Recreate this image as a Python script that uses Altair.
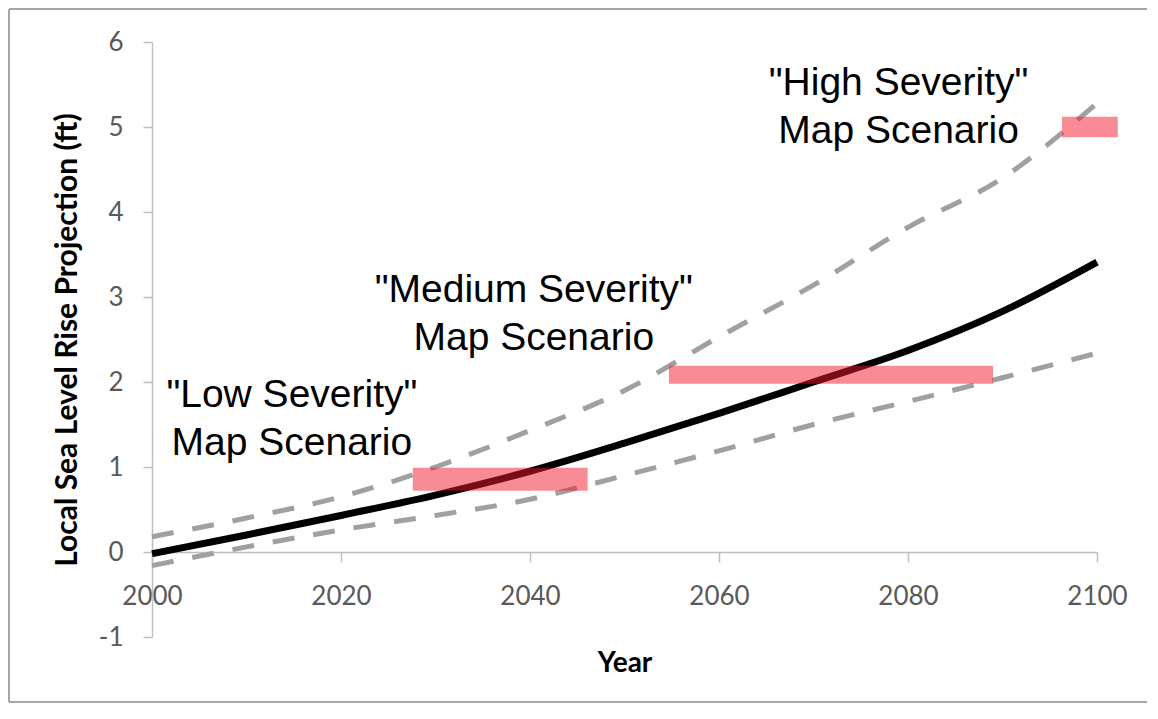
import altair as alt
import pandas as pd

# ---- data ----
years = [2000, 2010, 2020, 2030, 2040, 2050, 2060, 2070, 2080, 2090, 2100]
central = [-0.02, 0.2, 0.43, 0.67, 0.95, 1.28, 1.63, 2.0, 2.37, 2.83, 3.41]
upper = [0.18, 0.4, 0.65, 1.0, 1.43, 1.9, 2.53, 3.14, 3.82, 4.4, 5.28]
lower = [-0.16, 0.06, 0.26, 0.43, 0.62, 0.9, 1.19, 1.5, 1.77, 2.05, 2.34]

scen_names = ["Low", "Medium", "High"]
scen_x0 = [2027.6, 2054.7, 2096.3]
scen_x1 = [2046.1, 2089.0, 2102.2]
scen_y0 = [0.72, 1.98, 4.88]
scen_y1 = [0.99, 2.19, 5.12]

label_text = ['"Low Severity"\nMap Scenario',
              '"Medium Severity"\nMap Scenario',
              '"High Severity"\nMap Scenario']
label_x = [2014.8, 2040.4, 2079.0]
label_y = [1.71, 2.94, 5.38]

x_ticks = [2000, 2020, 2040, 2060, 2080, 2100]
y_ticks = [-1, 0, 1, 2, 3, 4, 5, 6]

W, H = 945, 595
PAD = {"left": 144, "top": 34, "right": 50, "bottom": 66}

# ---- tables ----
central_df = pd.DataFrame({"year": years, "value": central})
band_df = pd.DataFrame({
    "year": years * 2,
    "value": upper + lower,
    "series": ["Upper"] * len(years) + ["Lower"] * len(years),
})
bars_df = pd.DataFrame({"name": scen_names, "x0": scen_x0, "x1": scen_x1,
                        "y0": scen_y0, "y1": scen_y1})
labels_df = pd.DataFrame({"text": label_text, "tx": label_x, "ty": label_y})
one = pd.DataFrame({"a": [0]})

xs = alt.Scale(domain=[2000, 2100], nice=False, zero=False)
ys = alt.Scale(domain=[-1, 6], nice=False, zero=False)

axis_grey = "#bfbfbf"
xaxis = alt.Axis(values=x_ticks, labelExpr="'' + datum.value", grid=False, offset=-85,
                 domainColor=axis_grey, domainWidth=1.5, tickColor=axis_grey,
                 tickWidth=1.5, tickSize=10, labelFont="Lato", labelFontSize=26,
                 labelColor="#595959", labelPadding=21, labelFlush=False,
                 titleFont="Lato", titleFontSize=28, titleFontWeight="bold",
                 titleColor="#000000", titlePadding=40)
yaxis = alt.Axis(values=y_ticks, labelExpr="'' + datum.value", grid=False,
                 domainColor=axis_grey, domainWidth=1.5, tickColor=axis_grey,
                 tickWidth=1.5, tickSize=9, labelFont="Lato", labelFontSize=26,
                 labelColor="#595959", labelPadding=20,
                 titleFont="Lato", titleFontSize=30, titleFontWeight="bold",
                 titleColor="#000000", titlePadding=16)

XT = "Year"
YT = "Local Sea Level Rise Projection (ft)"

dashed = alt.Chart(band_df).mark_line(
    color="#a0a0a0", strokeWidth=5, strokeDash=[22, 19], interpolate="monotone"
).encode(
    x=alt.X("year:Q", scale=xs, axis=xaxis, title=XT),
    y=alt.Y("value:Q", scale=ys, axis=yaxis, title=YT),
    detail="series:N",
)

solid = alt.Chart(central_df).mark_line(
    color="#000000", strokeWidth=7, interpolate="monotone"
).encode(
    x=alt.X("year:Q", scale=xs, axis=xaxis, title=XT),
    y=alt.Y("value:Q", scale=ys, axis=yaxis, title=YT),
)

bars = alt.Chart(bars_df).mark_rect(color="#F3172D", opacity=0.5).encode(
    x=alt.X("x0:Q", scale=xs, axis=xaxis, title=XT),
    x2="x1:Q",
    y=alt.Y("y0:Q", scale=ys, axis=yaxis, title=YT),
    y2="y1:Q",
)

labels = alt.Chart(labels_df).mark_text(
    font="Liberation Sans", fontSize=39, lineHeight=48, align="center",
    baseline="alphabetic", color="#000000", lineBreak="\n"
).encode(
    x=alt.X("tx:Q", scale=xs, axis=xaxis, title=XT),
    y=alt.Y("ty:Q", scale=ys, axis=yaxis, title=YT),
    text="text:N",
)

frame_col = "#a6a6a6"
left_edge = -PAD["left"] + 1
top_edge = -PAD["top"] + 1
right_edge = W + PAD["right"]
bottom_edge = H + PAD["bottom"] - 1

frame_top = alt.Chart(one).mark_rule(color=frame_col, strokeWidth=2).encode(
    x=alt.value(left_edge), x2=alt.value(right_edge), y=alt.value(top_edge))
frame_bottom = alt.Chart(one).mark_rule(color=frame_col, strokeWidth=2).encode(
    x=alt.value(left_edge), x2=alt.value(right_edge), y=alt.value(bottom_edge))
frame_left = alt.Chart(one).mark_rule(color=frame_col, strokeWidth=2).encode(
    x=alt.value(left_edge), y=alt.value(top_edge), y2=alt.value(bottom_edge))

chart = alt.layer(
    dashed, solid, bars, labels, frame_top, frame_bottom, frame_left
).properties(
    width=W, height=H,
    padding=PAD,
    autosize=alt.AutoSizeParams(type="none"),
    background="#ffffff",
).configure_view(stroke=None)

chart.save("out.html", embed_options={"renderer": "svg", "actions": False})
